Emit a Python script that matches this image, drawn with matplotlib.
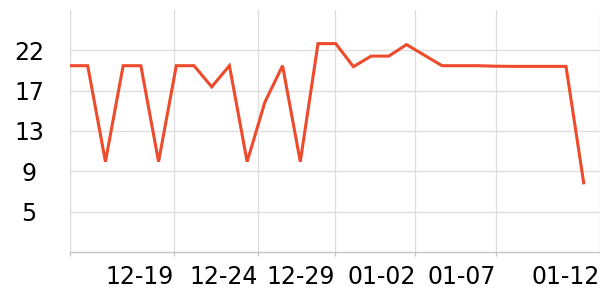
import numpy as np
import matplotlib
matplotlib.use("Agg")
import matplotlib.pyplot as plt


# ============================================================
# Data
# ============================================================

values = [
    20.0, 20.0, 10.0, 20.0, 20.0, 10.0, 20.0, 20.0, 17.8, 20.0,
    10.0, 16.2, 20.0, 10.0, 22.3, 22.3, 19.9, 21.0, 21.0, 22.2,
    21.1, 20.0, 20.0, 20.0, 19.95, 19.93, 19.93, 19.93, 19.93, 7.8,
]

x_tick_labels = ["", "12-19", "12-24", "12-29", "01-02", "01-07", "01-12"]
x_tick_pos = [0, 5.88, 10.62, 14.96, 19.50, 24.04, 29.92]

y_tick_labels = ["5", "9", "13", "17", "22"]

# ============================================================
# Style
# ============================================================

LINE_COLOR = "#ee4a2c"
GRID_COLOR = "#dddddd"
AXIS_COLOR = "#c4c4c4"

Y_MIN = 0.6
Y_STEP = 4.2


def main():
    fig = plt.figure(figsize=(6, 3), dpi=100)
    ax = fig.add_axes([70 / 600, 48 / 300, 530 / 600, 242 / 300])

    x = np.arange(len(values))
    ax.plot(x, values, color=LINE_COLOR, linewidth=2.2, solid_joinstyle="miter",
            zorder=3)

    ax.set_xlim(0, 29.92)
    ax.set_ylim(Y_MIN, Y_MIN + 6 * Y_STEP)

    y_tick_pos = [Y_MIN + Y_STEP * (k + 1) for k in range(len(y_tick_labels))]
    ax.set_yticks(y_tick_pos)
    ax.set_yticklabels(y_tick_labels, ha="center")
    ax.set_xticks(x_tick_pos)
    ax.set_xticklabels(x_tick_labels, ha="right")

    ax.grid(True, color=GRID_COLOR, linewidth=0.9, zorder=0)
    ax.set_axisbelow(True)

    for side in ["top", "right", "left"]:
        ax.spines[side].set_visible(False)
    ax.spines["bottom"].set_color(AXIS_COLOR)
    ax.spines["bottom"].set_linewidth(1.0)

    ax.tick_params(axis="y", length=0, pad=29.5, labelsize=17)
    ax.tick_params(axis="x", length=3, width=0.9, color=AXIS_COLOR,
                   pad=6.5, labelsize=17)

    # left vertical line at x=0 as a gridline
    ax.axvline(0, color=GRID_COLOR, linewidth=0.9, zorder=0)

    fig.savefig("out.png", dpi=100)
    plt.close(fig)


if __name__ == "__main__":
    main()
